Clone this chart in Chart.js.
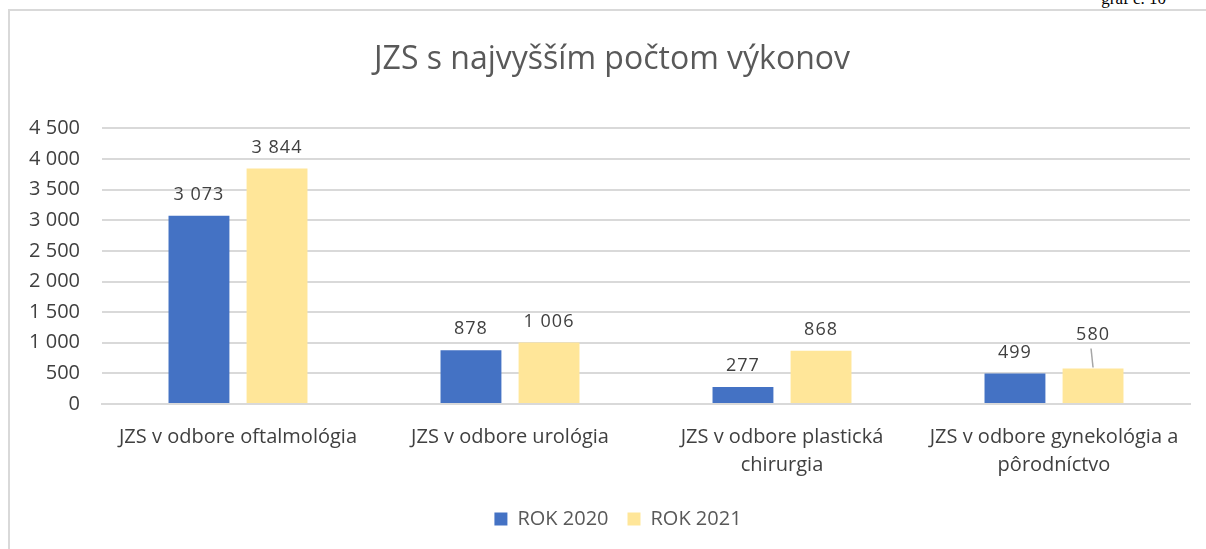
<!DOCTYPE html>
<html>
<head>
<meta charset="utf-8">
<script src="https://cdn.jsdelivr.net/npm/chart.js@4"></script>
<style>
  html, body { margin: 0; padding: 0; background: #fff; overflow: hidden; }
  body { width: 1206px; height: 549px; position: relative; }
  .cap { position: absolute; right: 40px; top: -11px; font: 17px "Liberation Serif", serif; color: #000; }
  .frame { position: absolute; left: 8px; top: 9px; width: 1220px; height: 560px; border: 2px solid #d9d9d9; box-sizing: border-box; }
  .wrap { position: absolute; left: 10px; top: 11px; width: 1196px; height: 538px; }
</style>
</head>
<body>
<div class="cap">graf č. 10</div>
<div class="frame"></div>
<div class="wrap"><canvas id="graf"></canvas></div>
<script>
const categories = [
  ['JZS v odbore oftalmológia'],
  ['JZS v odbore urológia'],
  ['JZS v odbore plastická', 'chirurgia'],
  ['JZS v odbore gynekológia a', 'pôrodníctvo']
];
const rok2020 = [3073, 878, 277, 499];
const rok2021 = [3844, 1006, 868, 580];
const yTicks = [0, 500, 1000, 1500, 2000, 2500, 3000, 3500, 4000, 4500];

const fmt = v => String(v).replace(/\B(?=(\d{3})+(?!\d))/g, ' ');
const FONT = '"Open Sans", sans-serif';

// hodnoty nad stĺpcami (580 má odsadený popis s čiarou)
const barLabels = {
  id: 'barLabels',
  afterLayout(chart) {
    // nadpis a legenda sú v origináli trochu vpravo
    chart.titleBlock.left += 24;
    chart.legend.left += 36;
  },
  afterDatasetsDraw(chart) {
    const ctx = chart.ctx;
    ctx.save();
    ctx.font = '18px ' + FONT;
    ctx.letterSpacing = '1px';
    ctx.fillStyle = '#404040';
    ctx.textAlign = 'center';
    ctx.textBaseline = 'bottom';
    chart.data.datasets.forEach((ds, di) => {
      chart.getDatasetMeta(di).data.forEach((bar, i) => {
        const lifted = di === 1 && i === 3;
        const y = bar.y - (lifted ? 25 : 12);
        ctx.fillText(fmt(ds.data[i]), bar.x, y);
        if (lifted) {
          ctx.strokeStyle = '#a6a6a6';
          ctx.lineWidth = 1.5;
          ctx.beginPath();
          ctx.moveTo(bar.x - 2, y + 5);
          ctx.lineTo(bar.x, bar.y - 1);
          ctx.stroke();
        }
      });
    });
    ctx.restore();
  }
};

window.onload = function() {
  const ctx = document.getElementById('graf').getContext('2d');
  new Chart(ctx, {
    type: 'bar',
    data: {
      labels: categories,
      datasets: [
        { label: 'ROK 2020', data: rok2020, backgroundColor: '#4472C4' },
        { label: 'ROK 2021', data: rok2021, backgroundColor: '#FFE699' }
      ]
    },
    options: {
      responsive: true,
      maintainAspectRatio: false,
      animation: false,
      categoryPercentage: 0.574,
      barPercentage: 0.78,
      layout: { padding: { left: 0, right: 16, top: 0, bottom: 10 } },
      plugins: {
        title: {
          display: true,
          text: 'JZS s najvyšším počtom výkonov',
          color: '#595959',
          font: { family: FONT, size: 32, weight: 'normal' },
          padding: { top: 30, bottom: 49 }
        },
        legend: {
          position: 'bottom',
          labels: {
            color: '#595959',
            font: { family: FONT, size: 20 },
            boxWidth: 13, boxHeight: 13, padding: 19
          }
        },
        tooltip: { enabled: false }
      },
      scales: {
        x: {
          grid: { display: false },
          border: { color: '#d9d9d9', width: 2 },
          ticks: { color: '#404040', font: { family: FONT, size: 20, lineHeight: 1.4 }, maxRotation: 0, padding: 11 }
        },
        y: {
          min: 0, max: 4500,
          afterBuildTicks: s => { s.ticks = yTicks.map(v => ({ value: v })); },
          afterFit: s => { s.width = 92; },
          grid: { color: '#d9d9d9', lineWidth: 2, drawTicks: false },
          border: { display: false },
          ticks: { color: '#404040', font: { family: FONT, size: 20 }, padding: 22, callback: v => fmt(v) }
        }
      }
    },
    plugins: [barLabels]
  });
};
</script>
</body>
</html>
